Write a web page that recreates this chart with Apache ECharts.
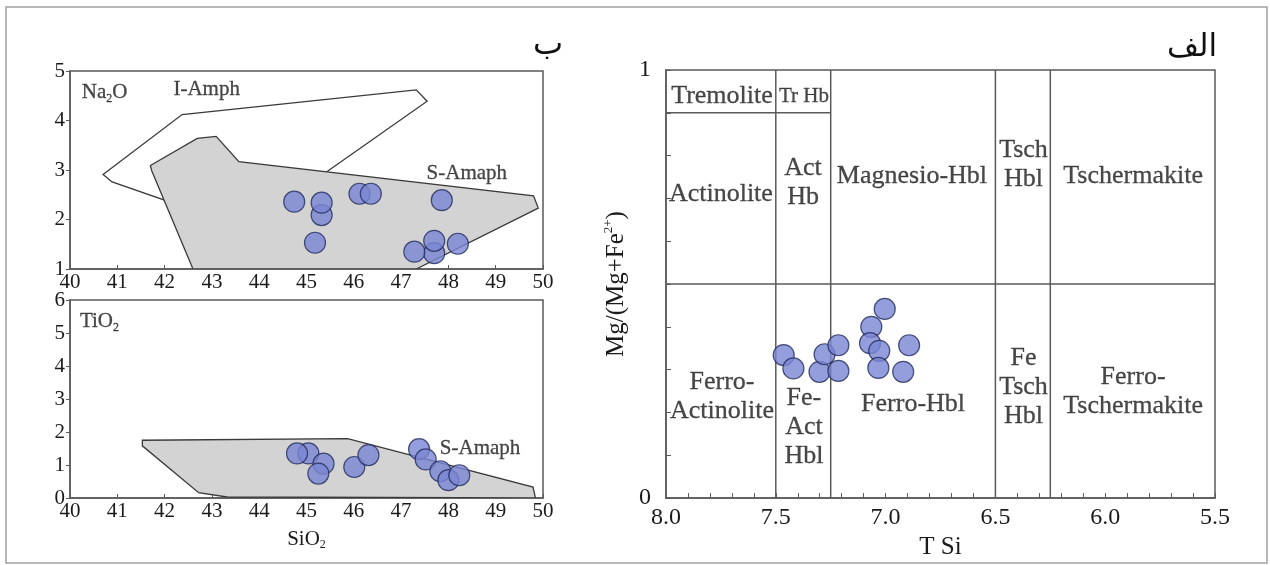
<!DOCTYPE html>
<html>
<head>
<meta charset="utf-8">
<script src="https://cdn.jsdelivr.net/npm/echarts@6/dist/echarts.min.js"></script>
<style>
html, body { margin: 0; padding: 0; background: #fff; }
#chart { width: 1270px; height: 565px; }
</style>
</head>
<body>
<div id="chart"></div>
<script>
// ---------- data ----------
// left: SiO2 (wt%) vs Na2O and TiO2
var siRange = [40, 50];
var naRange = [1, 5];
var tiRange = [0, 6];
var naSi = [
    [44.74, 2.36], [45.32, 2.09], [45.32, 2.34], [45.18, 1.53], [46.12, 2.52], [46.36, 2.52],
    [47.86, 2.39], [47.70, 1.32], [47.28, 1.35], [47.70, 1.57], [48.20, 1.51]
];
var tiSi = [
    [45.04, 1.35], [44.80, 1.35], [45.36, 1.04], [45.25, 0.74], [46.01, 0.94], [46.31, 1.30],
    [47.38, 1.48], [47.52, 1.17], [47.83, 0.81], [48.00, 0.54], [48.23, 0.69]
];
// field outlines (SiO2, oxide)
var iAmphNa = [[40.70, 2.91], [40.89, 2.76], [43.72, 1.82], [47.55, 4.39], [47.32, 4.62], [42.37, 4.12]];
var sAmphNa = [[41.70, 3.09], [41.73, 2.98], [42.60, 1.0], [47.32, 1.0], [49.90, 2.23], [49.80, 2.48],
               [43.57, 3.17], [43.09, 3.68], [42.69, 3.64]];
var sAmphTi = [[41.53, 1.75], [41.53, 1.58], [42.72, 0.16], [43.32, 0.03], [49.84, 0.0], [49.79, 0.33], [45.87, 1.80]];
var naNames = ['{a|Na}{s|2}{a|O}', '{a|I-Amph}', '{a|S-Amaph}'];
var naAnchors = [[40.25, 4.56], [42.89, 4.62], [48.39, 2.93]];
var tiNames = ['{a|TiO}{s|2}', '{a|S-Amaph}'];
var tiAnchors = [[40.21, 5.34], [48.67, 1.51]];

// right: T Si vs Mg/(Mg+Fe2+)
var tsiRange = [5.5, 8.0];
var mgRange = [0, 1];
var mgTsi = [
    [7.464, 0.334], [7.420, 0.303], [7.301, 0.295], [7.278, 0.336], [7.215, 0.357], [7.215, 0.297],
    [7.065, 0.400], [7.071, 0.362], [7.029, 0.344], [7.033, 0.304], [7.004, 0.442], [6.920, 0.295], [6.893, 0.357]
];
// field boundaries [x1, y1, x2, y2]
var fieldLines = [
    [7.5, 0, 7.5, 1], [7.25, 0, 7.25, 1], [6.5, 0, 6.5, 1], [6.25, 0, 6.25, 1],
    [8.0, 0.5, 5.5, 0.5], [8.0, 0.9, 7.25, 0.9]
];
var fieldNames = ['Tremolite', 'Tr Hb', 'Actinolite', 'Act\nHb', 'Magnesio-Hbl', 'Tsch\nHbl', 'Tschermakite',
                  'Ferro-\nActinolite', 'Fe-\nAct\nHbl', 'Ferro-Hbl', 'Fe\nTsch\nHbl', 'Ferro-\nTschermakite'];
var fieldAnchors = [[7.745, 0.939], [7.372, 0.939], [7.750, 0.709], [7.376, 0.737], [6.880, 0.753], [6.372, 0.779],
                    [5.873, 0.751], [7.745, 0.238], [7.372, 0.166], [6.875, 0.219], [6.372, 0.259], [5.873, 0.249]];

// ---------- style ----------
var serif = '"Liberation Serif", "Times New Roman", serif';
var axisCol = '#5a5a5a';
var txtCol = '#1a1a1a';
var dotStyle = { color: '#7b86d3', borderColor: '#1f2a5c', borderWidth: 1.2 };
var richText = {
    a: { fontSize: 21, fontFamily: serif, color: txtCol, lineHeight: 24 },
    s: { fontSize: 12, fontFamily: serif, color: txtCol, lineHeight: 12, verticalAlign: 'bottom' }
};

function siAxis(gi, title) {
    return {
        type: 'value', gridIndex: gi, min: siRange[0], max: siRange[1], interval: 1,
        axisLine: { show: true, onZero: false, lineStyle: { color: axisCol, width: 1.5 } },
        axisTick: { show: true, inside: true, length: 4, lineStyle: { color: axisCol } },
        axisLabel: { color: txtCol, fontSize: 21, fontFamily: serif, margin: 3 },
        splitLine: { show: false },
        name: title, nameLocation: 'middle', nameGap: 29,
        nameTextStyle: { rich: richText }
    };
}
function oxideAxis(gi, range) {
    return {
        type: 'value', gridIndex: gi, min: range[0], max: range[1], interval: 1,
        axisLine: { show: true, onZero: false, lineStyle: { color: axisCol, width: 1.5 } },
        axisTick: { show: true, length: 4, lineStyle: { color: axisCol } },
        axisLabel: { color: txtCol, fontSize: 21, fontFamily: serif, margin: 5 },
        splitLine: { show: false }
    };
}
function polygon(gi, pts, fill) {
    return {
        type: 'custom', xAxisIndex: gi, yAxisIndex: gi, silent: true, clip: true,
        data: [pts[0]],
        renderItem: function (params, api) {
            return {
                type: 'polygon',
                shape: { points: pts.map(function (p) { return api.coord(p); }) },
                style: { fill: fill, stroke: '#3a3a3a', lineWidth: 1.3 }
            };
        }
    };
}
function labelSeries(gi, names, anchors, fontSize) {
    return {
        type: 'scatter', xAxisIndex: gi, yAxisIndex: gi, silent: true, symbolSize: 0,
        data: names.map(function (n, i) { return { name: n, value: anchors[i] }; }),
        label: {
            show: true, position: 'inside', formatter: '{b}',
            fontFamily: serif, fontSize: fontSize, lineHeight: 29, color: txtCol,
            textBorderColor: txtCol, textBorderWidth: 0.3,
            rich: richText
        }
    };
}

var naLabels = labelSeries(0, naNames, naAnchors, 21);
naLabels.data[0].label = { position: 'right', distance: 0 };
var tiLabels = labelSeries(1, tiNames, tiAnchors, 21);
tiLabels.data[0].label = { position: 'right', distance: 0 };
var fieldLabels = labelSeries(2, fieldNames, fieldAnchors, 26);
fieldLabels.data[1].label = { fontSize: 21 };

var option = {
    backgroundColor: '#fff',
    animation: false,
    textStyle: { fontFamily: serif },
    graphic: [
        { type: 'rect', shape: { x: 6, y: 7, width: 1261, height: 556 }, style: { fill: 'none', stroke: '#a0a0a0', lineWidth: 1.5 }, z: -10 },
        { type: 'text', x: 548, y: 46, style: { text: 'ب', font: '32px "DejaVu Sans"', fill: '#111', textAlign: 'center', textVerticalAlign: 'middle' } },
        { type: 'text', x: 1192, y: 48, style: { text: 'الف', font: '31px "DejaVu Sans"', fill: '#111', textAlign: 'center', textVerticalAlign: 'middle' } }
    ],
    grid: [
        { left: 70, top: 71, width: 473, height: 198, show: true, borderColor: axisCol, borderWidth: 1.5 },
        { left: 70, top: 300, width: 473, height: 198, show: true, borderColor: axisCol, borderWidth: 1.5 },
        { left: 666, top: 70, width: 549, height: 429, show: true, borderColor: axisCol, borderWidth: 1.5 }
    ],
    xAxis: [
        siAxis(0, ''),
        siAxis(1, '{a|SiO}{s|2}'),
        {
            type: 'value', gridIndex: 2, min: tsiRange[0], max: tsiRange[1], interval: 0.5, inverse: true,
            axisLine: { show: true, onZero: false, lineStyle: { color: axisCol, width: 1.5 } },
            axisTick: { show: true, inside: true, length: 5, lineStyle: { color: axisCol } },
            minorTick: { show: true, splitNumber: 5, length: 5, lineStyle: { color: axisCol, width: 1 } },
            axisLabel: { color: txtCol, fontSize: 24, fontFamily: serif, margin: 8,
                formatter: function (v) { return v.toFixed(1); } },
            splitLine: { show: false },
            name: 'T Si', nameLocation: 'middle', nameGap: 32,
            nameTextStyle: { color: txtCol, fontSize: 25, fontFamily: serif }
        }
    ],
    yAxis: [
        oxideAxis(0, naRange),
        oxideAxis(1, tiRange),
        {
            type: 'value', gridIndex: 2, min: mgRange[0], max: mgRange[1], interval: 1,
            axisLine: { show: true, onZero: false, lineStyle: { color: axisCol, width: 1.5 } },
            axisTick: { show: true, inside: true, length: 5, lineStyle: { color: axisCol } },
            minorTick: { show: true, splitNumber: 10, length: 5, lineStyle: { color: axisCol, width: 1 } },
            axisLabel: { color: txtCol, fontSize: 24, fontFamily: serif, margin: 15 },
            splitLine: { show: false },
            name: '{a|Mg/(Mg+Fe}{b|2+}{a|)}', nameLocation: 'middle', nameGap: 36,
            nameTextStyle: {
                rich: {
                    a: { fontSize: 25, fontFamily: serif, color: txtCol, lineHeight: 28 },
                    b: { fontSize: 13, fontFamily: serif, color: txtCol, lineHeight: 13, verticalAlign: 'top' }
                }
            }
        }
    ],
    series: [
        polygon(0, iAmphNa, '#ffffff'),
        polygon(0, sAmphNa, '#d3d3d3'),
        polygon(1, sAmphTi, '#d3d3d3'),
        {
            type: 'custom', xAxisIndex: 2, yAxisIndex: 2, silent: true,
            encode: { x: [0, 2], y: [1, 3] },
            data: fieldLines,
            renderItem: function (params, api) {
                var p1 = api.coord([api.value(0), api.value(1)]);
                var p2 = api.coord([api.value(2), api.value(3)]);
                return {
                    type: 'line',
                    shape: { x1: p1[0], y1: p1[1], x2: p2[0], y2: p2[1] },
                    style: { stroke: axisCol, lineWidth: 1.5 }
                };
            }
        },
        naLabels,
        tiLabels,
        fieldLabels,
        { type: 'scatter', xAxisIndex: 0, yAxisIndex: 0, symbolSize: 21, itemStyle: dotStyle, data: naSi },
        { type: 'scatter', xAxisIndex: 1, yAxisIndex: 1, symbolSize: 21, itemStyle: dotStyle, data: tiSi },
        { type: 'scatter', xAxisIndex: 2, yAxisIndex: 2, symbolSize: 21, itemStyle: dotStyle, data: mgTsi }
    ]
};

var myChart = echarts.init(document.getElementById('chart'));
myChart.setOption(option);
</script>
</body>
</html>
